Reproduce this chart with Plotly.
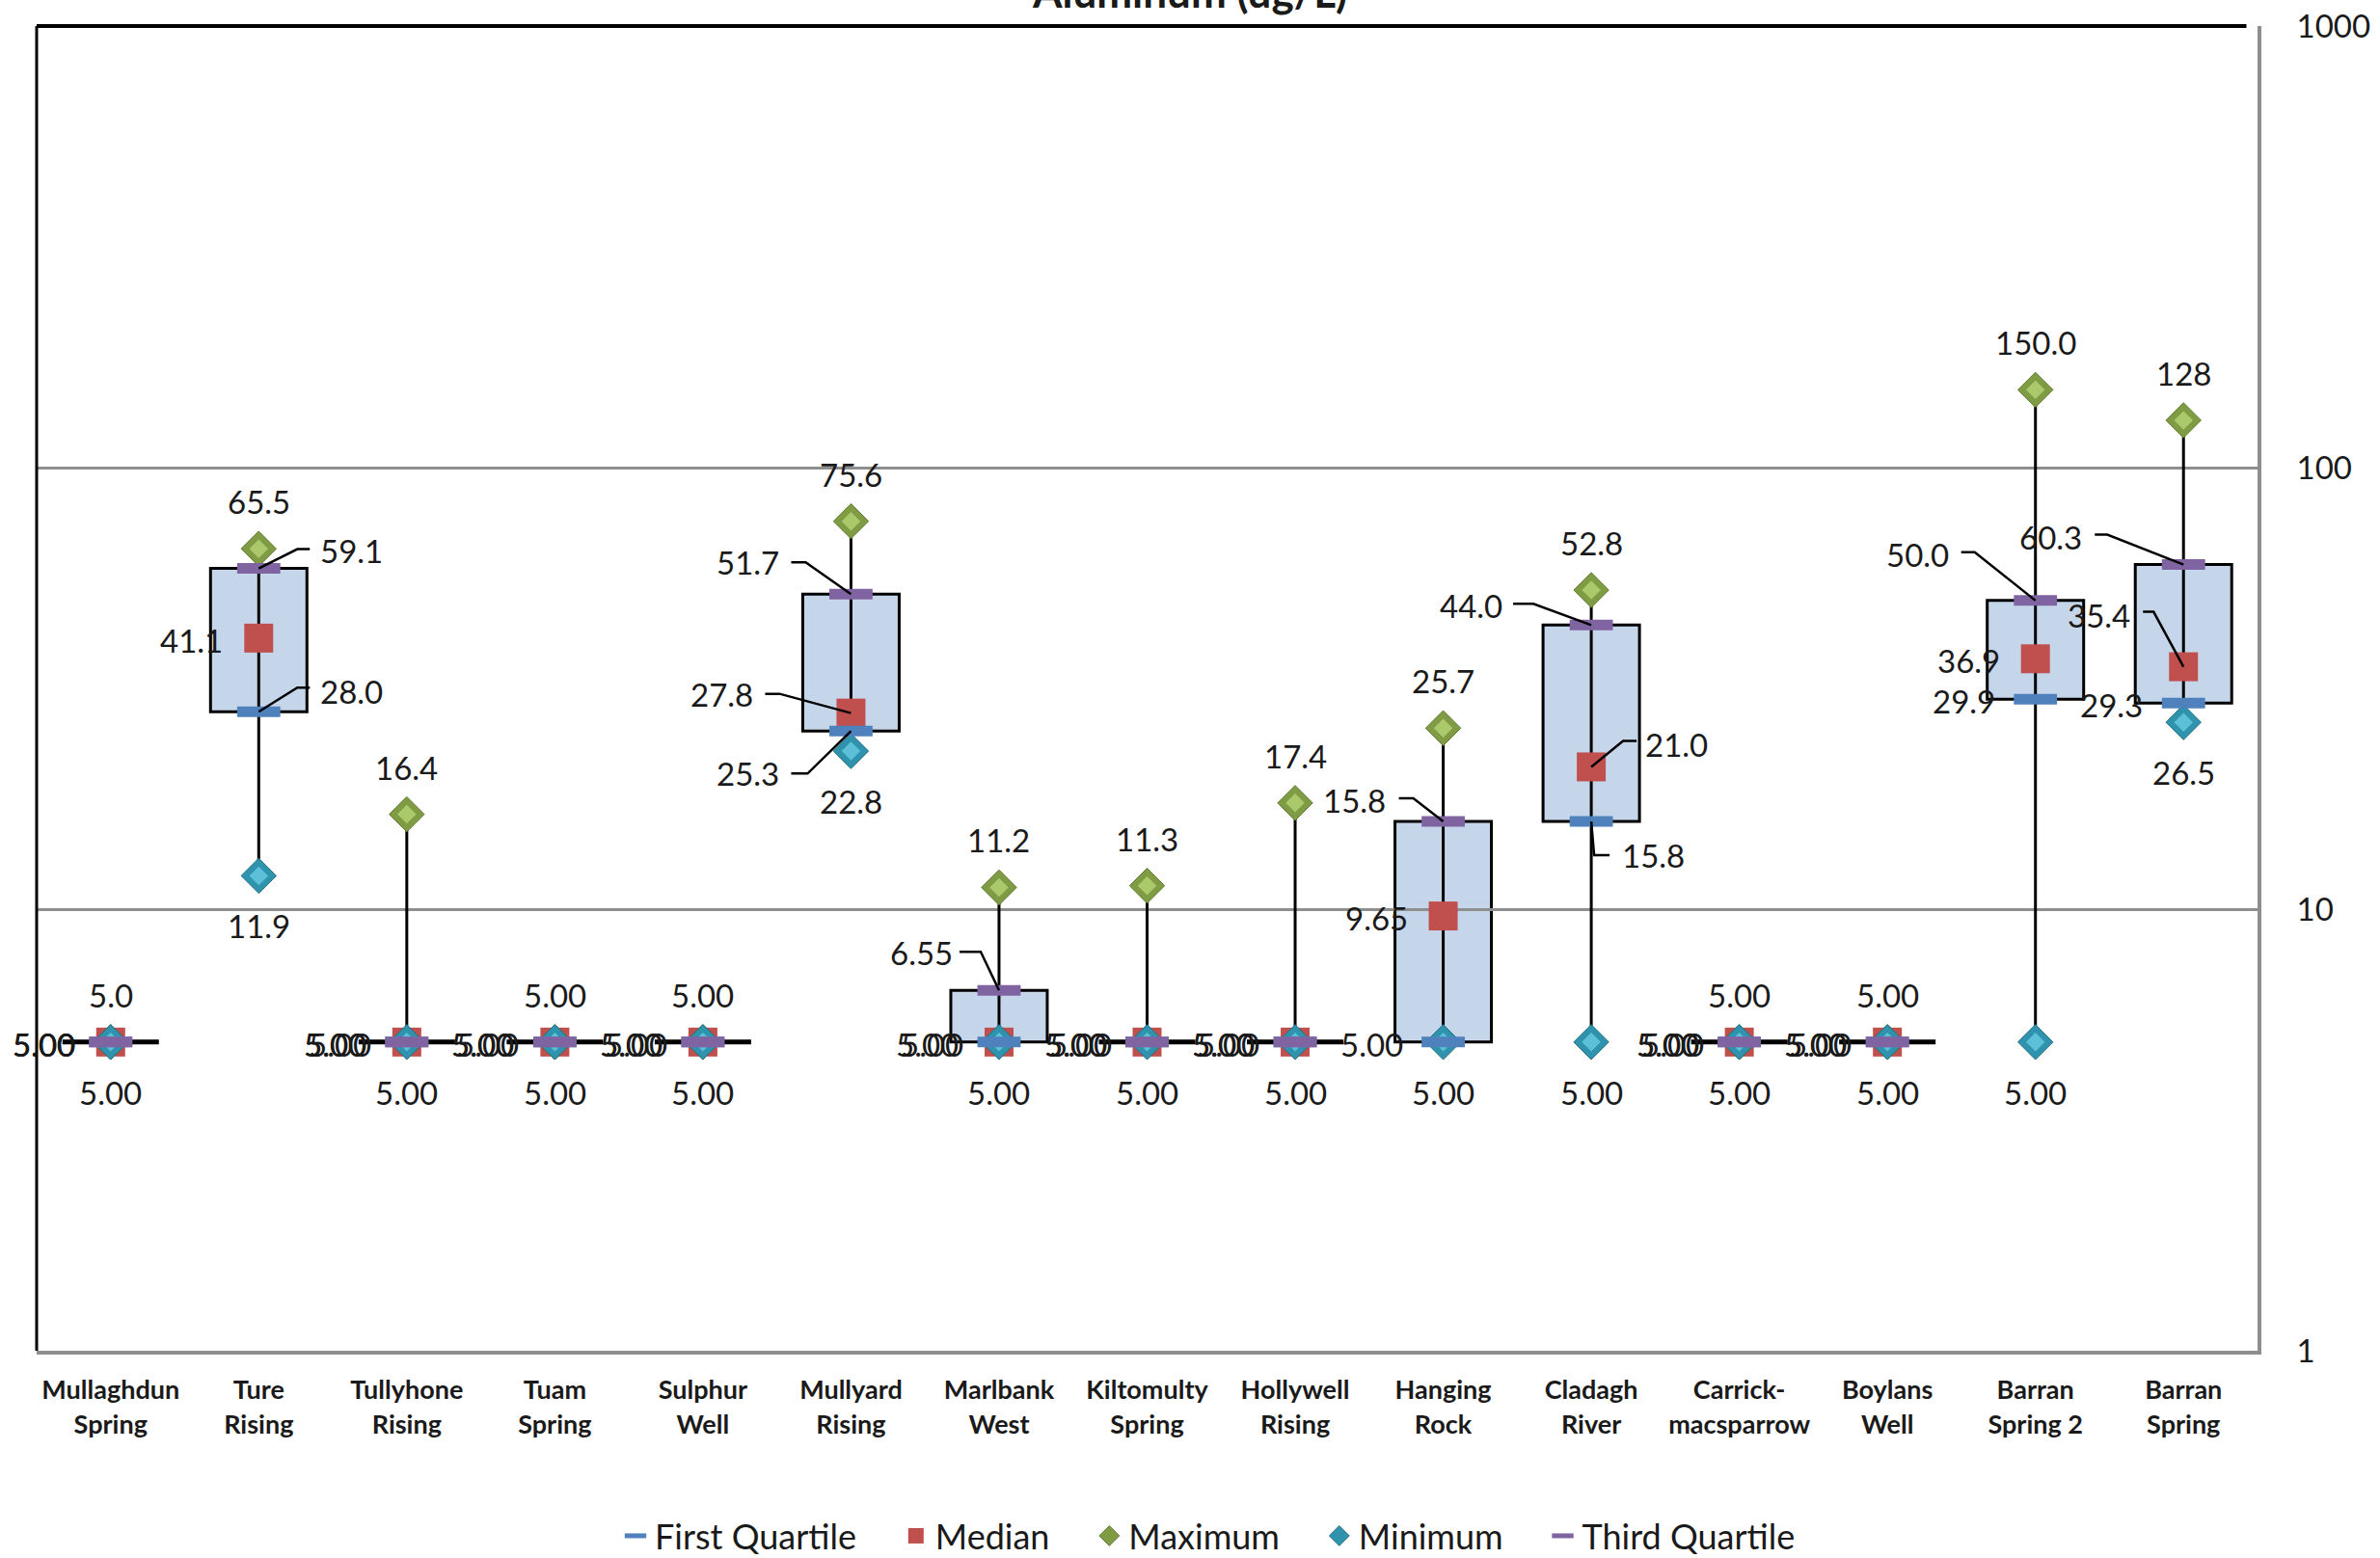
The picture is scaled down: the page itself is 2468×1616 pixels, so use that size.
import math
import plotly.graph_objects as go

# ---- data -------------------------------------------------------------
sites = ["Mullaghdun<br>Spring", "Ture<br>Rising", "Tullyhone<br>Rising", "Tuam<br>Spring",
         "Sulphur<br>Well", "Mullyard<br>Rising", "Marlbank<br>West", "Kiltomulty<br>Spring",
         "Hollywell<br>Rising", "Hanging<br>Rock", "Cladagh<br>River", "Carrick-<br>macsparrow",
         "Boylans<br>Well", "Barran<br>Spring 2", "Barran<br>Spring"]

minimum = [5.00, 11.9, 5.00, 5.00, 5.00, 22.8, 5.00, 5.00, 5.00, 5.00, 5.00, 5.00, 5.00, 5.00, 26.5]
first_quartile = [5.00, 28.0, 5.00, 5.00, 5.00, 25.3, 5.00, 5.00, 5.00, 5.00, 15.8, 5.00, 5.00, 29.9, 29.3]
median = [5.00, 41.1, 5.00, 5.00, 5.00, 27.8, 5.00, 5.00, 5.00, 9.65, 21.0, 5.00, 5.00, 36.9, 35.4]
third_quartile = [5.00, 59.1, 5.00, 5.00, 5.00, 51.7, 6.55, 5.00, 5.00, 15.8, 44.0, 5.00, 5.00, 50.0, 60.3]
maximum = [5.0, 65.5, 16.4, 5.00, 5.00, 75.6, 11.2, 11.3, 17.4, 25.7, 52.8, 5.00, 5.00, 150.0, 128]

# decimals used in the maximum labels (the others use 3 significant figures)
maximum_decimals = [1, 1, 1, 2, 2, 1, 1, 1, 1, 1, 1, 2, 2, 1, 0]

y_tick_values = [1, 10, 100, 1000]
y_tick_labels = ["1", "10", "100", "1000"]

# ---- style ------------------------------------------------------------
FONT = "Lato"
C_Q1 = "#4F81BD"
C_MED = "#C0504D"
C_Q3 = "#8064A2"
C_BOX = "#C5D6EB"
C_GRID = "#8E8E8E"
TXT = "#1a1a1a"
LABEL_FONT = dict(family=FONT, size=33, color=TXT)
PAD = "\u00a0" * 4  # extra room after each legend entry


def sig3(v):
    if v >= 100:
        return f"{v:.0f}"
    if v >= 10:
        return f"{v:.1f}"
    return f"{v:.2f}"


x = list(range(len(sites)))
fig = go.Figure()

# whiskers: vertical line from minimum to maximum
wx, wy = [], []
for i in x:
    wx += [i, i, None]
    wy += [minimum[i], maximum[i], None]
fig.add_trace(go.Scatter(x=wx, y=wy, mode="lines", line=dict(color="black", width=3),
                         hoverinfo="skip", showlegend=False))

# markers, bottom to top
fig.add_trace(go.Scatter(x=x, y=median, mode="markers", name="Median" + PAD, legendrank=2,
                         marker=dict(symbol="square", size=30, color=C_MED)))
fig.add_trace(go.Scatter(x=x, y=maximum, mode="markers", name="Maximum" + PAD, legendrank=3,
                         marker=dict(symbol="diamond", size=28, color="#7F9C45",
                                     line=dict(color="#5F7A2E", width=1))))
fig.add_trace(go.Scatter(x=x, y=maximum, mode="markers", showlegend=False, hoverinfo="skip",
                         marker=dict(symbol="diamond", size=15, color="#A9C96B")))
fig.add_trace(go.Scatter(x=x, y=minimum, mode="markers", name="Minimum" + PAD, legendrank=4,
                         marker=dict(symbol="diamond", size=28, color="#2F93AE",
                                     line=dict(color="#226E84", width=1))))
fig.add_trace(go.Scatter(x=x, y=minimum, mode="markers", showlegend=False, hoverinfo="skip",
                         marker=dict(symbol="diamond", size=15, color="#5EC0D8")))
fig.add_trace(go.Scatter(x=x, y=first_quartile, mode="markers", name="First Quartile" + PAD,
                         legendrank=1,
                         marker=dict(symbol="line-ew", size=32, color=C_Q1,
                                     line=dict(color=C_Q1, width=11))))
fig.add_trace(go.Scatter(x=x, y=third_quartile, mode="markers", name="Third Quartile", legendrank=5,
                         marker=dict(symbol="line-ew", size=32, color=C_Q3,
                                     line=dict(color=C_Q3, width=11))))

shapes = []
# boxes from first to third quartile, 100 px wide
for i in x:
    flat = first_quartile[i] == third_quartile[i]
    shapes.append(dict(type="rect", xref="x", yref="y", xsizemode="pixel", xanchor=i,
                       x0=-50, x1=50, y0=first_quartile[i], y1=third_quartile[i],
                       fillcolor=C_BOX, line=dict(color="black", width=5 if flat else 3),
                       layer="below"))

# plot-area frame: black on the left and top
shapes.append(dict(type="line", xref="paper", yref="paper", x0=0, x1=0, y0=0, y1=1,
                   line=dict(color="black", width=3), layer="above"))
shapes.append(dict(type="line", xref="paper", yref="paper", x0=0, x1=0.995, y0=1, y1=1,
                   line=dict(color="black", width=4), layer="above"))

# ---- data labels ------------------------------------------------------
series = {
    "q1": first_quartile,
    "median": median,
    "max": maximum,
    "min": minimum,
    "q3": third_quartile,
}
# default label placement: (xanchor, dx, dy) in px, dy downward
default_place = {
    "max": ("center", 0, -49),
    "min": ("center", 0, 52),
    "q1": ("right", -40, 2),
    "q3": ("right", -40, 2),
    "median": ("right", -35, 2),
}
plain_override = {
    ("q1", 0): ("right", -35, 2),
    ("q3", 0): ("right", -35, 2),
}
# labels moved off the box with a bent leader: (xanchor, dx, dy, (bend_x, bend_y), end_x)
leader_place = {
    ("q3", 1): ("left", 62, -19, (40, -20), 53),
    ("q1", 1): ("left", 62, -21, (40, -25), 53),
    ("q3", 5): ("right", -72, -33, (-47, -33), -62),
    ("median", 5): ("right", -99, -20, (-74, -20), -89),
    ("q1", 5): ("right", -72, 44, (-45, 44), -62),
    ("q3", 6): ("right", -46, -39, (-19, -40), -41),
    ("q3", 9): ("right", -58, -22, (-31, -24), -46),
    ("q3", 10): ("right", -90, -20, (-60, -22), -81),
    ("median", 10): ("left", 54, -23, (33, -27), 47),
    ("q1", 10): ("left", 30, 35, (3, 35), 19),
    ("q3", 13): ("right", -88, -48, (-63, -50), -77),
    ("q3", 14): ("right", -103, -29, (-79, -31), -92),
    ("median", 14): ("right", -53, -54, (-31, -57), -42),
}

annotations = []
for key, vals in series.items():
    for i in x:
        v = vals[i]
        text = f"{v:.{maximum_decimals[i]}f}" if key == "max" else sig3(v)
        if (key, i) in leader_place:
            anchor, dx, dy, (bx, by), ex = leader_place[(key, i)]
            shapes.append(dict(type="path", xref="x", yref="y", xsizemode="pixel",
                               ysizemode="pixel", xanchor=i, yanchor=v,
                               path=f"M0,0 L{bx},{-by} L{ex},{-by}",
                               line=dict(color="black", width=2.5), layer="above"))
        else:
            anchor, dx, dy = plain_override.get((key, i), default_place[key])
        annotations.append(dict(x=i, y=math.log10(v), xref="x", yref="y", text=text,
                                showarrow=False, xanchor=anchor, yanchor="middle",
                                xshift=dx, yshift=-dy, font=LABEL_FONT))

# chart title, mostly above the top edge of the page
annotations.append(dict(x=0.519, y=1, xref="paper", yref="paper", text="<b>Aluminum (ug/L)</b>",
                        showarrow=False, xanchor="center", yanchor="middle", yshift=36,
                        font=dict(family=FONT, size=44, color=TXT)))

fig.update_layout(
    width=2468, height=1616,
    margin=dict(l=38, r=127, t=27, b=215, autoexpand=False),
    paper_bgcolor="white", plot_bgcolor="white",
    shapes=shapes, annotations=annotations,
    showlegend=True,
    legend=dict(orientation="h", xref="container", x=0.5077, xanchor="center",
                yref="container", y=0.0142, yanchor="middle",
                font=dict(family=FONT, size=36, color=TXT), bgcolor="rgba(0,0,0,0)",
                traceorder="normal"),
    xaxis=dict(range=[-0.5, len(sites) - 0.5], tickvals=x, ticktext=sites, automargin=False,
               showgrid=False, zeroline=False, showline=True, linecolor=C_GRID, linewidth=4,
               ticks="", ticklabelstandoff=14,
               tickfont=dict(family=FONT, size=27, color=TXT, weight="bold")),
    yaxis=dict(type="log", range=[0, 3], side="right", tickvals=y_tick_values, automargin=False,
               ticktext=y_tick_labels, showgrid=True, gridcolor=C_GRID, gridwidth=3,
               showline=True, linecolor=C_GRID, linewidth=4, zeroline=False,
               ticks="", ticklabelstandoff=30,
               tickfont=dict(family=FONT, size=33, color=TXT)),
)

fig.write_html("out.html")
